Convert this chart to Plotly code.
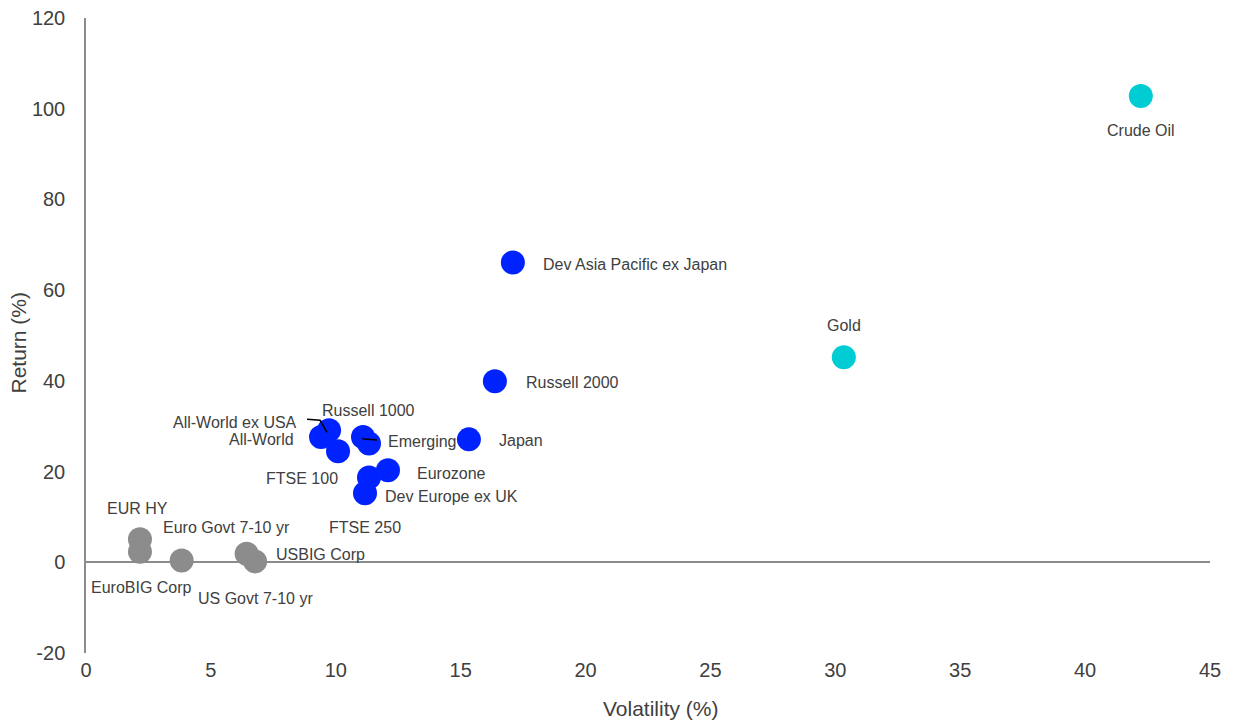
import plotly.graph_objects as go

# ---------------- data ----------------
equity_names = ["Dev Asia Pacific ex Japan", "Russell 2000", "Japan", "Russell 1000",
                "Emerging", "All-World ex USA", "All-World", "FTSE 100", "FTSE 250",
                "Eurozone", "Dev Europe ex UK"]
equity_vol = [17.09, 16.37, 15.33, 11.33, 11.09, 9.73, 9.41, 11.33, 10.09, 12.09, 11.17]
equity_ret = [66.1, 39.9, 27.1, 26.2, 27.6, 29.1, 27.6, 18.7, 24.5, 20.3, 15.2]

commodity_names = ["Crude Oil", "Gold"]
commodity_vol = [42.23, 30.34]
commodity_ret = [102.8, 45.2]

bond_names = ["EUR HY", "EuroBIG Corp", "Euro Govt 7-10 yr", "USBIG Corp", "US Govt 7-10 yr"]
bond_vol = [2.16, 2.16, 3.83, 6.43, 6.77]
bond_ret = [5.1, 2.3, 0.4, 1.9, 0.2]

x_ticks = [0, 5, 10, 15, 20, 25, 30, 35, 40, 45]
y_ticks = [-20, 0, 20, 40, 60, 80, 100, 120]
x_title = "Volatility (%)"
y_title = "Return (%)"

# ---------------- styles ----------------
FONT = "Arial, 'Liberation Sans', sans-serif"
TXT = "#404040"
AXIS = "#8c8c8c"
C_EQ = "#0022ff"
C_CM = "#00ccd3"
C_BD = "#8c8c8c"
MSIZE = 24

# label offsets in pixels (dx right, dy down) and anchor
label_pos = {
    "Crude Oil": (0, 34, "center"),
    "Gold": (0, -32, "center"),
    "Dev Asia Pacific ex Japan": (28, 2, "left"),
    "Russell 2000": (29, 1, "left"),
    "Japan": (28, 1, "left"),
    "Russell 1000": (-1, -33, "center"),
    "Emerging": (23, 4, "left"),
    "All-World ex USA": (-30, -8, "right"),
    "All-World": (-25, 2, "right"),
    "FTSE 100": (-29, 1, "right"),
    "FTSE 250": (27, 76, "center"),
    "Eurozone": (27, 3, "left"),
    "Dev Europe ex UK": (18, 3, "left"),
    "EUR HY": (-2, -31, "center"),
    "EuroBIG Corp": (2, 36, "center"),
    "Euro Govt 7-10 yr": (-21, -33, "left"),
    "USBIG Corp": (27, 1, "left"),
    "US Govt 7-10 yr": (-59, 37, "left"),
}
# leader lines: pixel offsets (dx right, dy down) relative to the point
leaders = {
    "All-World ex USA": [(-22, -11), (-9, -10), (-2, 2)],
    "Emerging": [(-1, 1), (1, 2), (14, 3)],
}

fig = go.Figure()
for names, xs, ys, col in [(bond_names, bond_vol, bond_ret, C_BD),
                           (equity_names, equity_vol, equity_ret, C_EQ),
                           (commodity_names, commodity_vol, commodity_ret, C_CM)]:
    fig.add_trace(go.Scatter(x=xs, y=ys, mode="markers", text=names,
                             marker=dict(size=MSIZE, color=col, line=dict(width=0)),
                             showlegend=False, hoverinfo="text+x+y"))

annotations = []
shapes = []
for names, xs, ys in [(bond_names, bond_vol, bond_ret),
                      (equity_names, equity_vol, equity_ret),
                      (commodity_names, commodity_vol, commodity_ret)]:
    for n, xv, yv in zip(names, xs, ys):
        dx, dy, anc = label_pos[n]
        annotations.append(dict(x=xv, y=yv, xref="x", yref="y", text=n,
                                showarrow=False, xanchor=anc, yanchor="middle",
                                xshift=dx, yshift=-dy,
                                font=dict(family=FONT, size=16, color=TXT)))
        if n in leaders:
            pts = leaders[n]
            path = "M " + " L ".join(f"{px} {-py}" for px, py in pts)
            shapes.append(dict(type="path", xref="x", yref="y", xsizemode="pixel",
                               ysizemode="pixel", xanchor=xv, yanchor=yv, path=path,
                               line=dict(color="black", width=1.5)))

# axis titles
annotations.append(dict(x=0.5, y=0, xref="paper", yref="paper", text=x_title,
                        showarrow=False, xanchor="center", yanchor="middle",
                        xshift=13, yshift=-55, font=dict(family=FONT, size=21, color=TXT)))
annotations.append(dict(x=0, y=0.5, xref="paper", yref="paper", text=y_title,
                        showarrow=False, xanchor="center", yanchor="middle", textangle=-90,
                        xshift=-68, yshift=-7, font=dict(family=FONT, size=21, color=TXT)))

fig.update_layout(
    width=1260, height=723,
    margin=dict(l=86, r=50, t=18, b=70),
    paper_bgcolor="white", plot_bgcolor="white",
    font=dict(family=FONT, color=TXT),
    annotations=annotations, shapes=shapes,
    xaxis=dict(range=[0, 45], tickvals=x_ticks, ticktext=[str(v) for v in x_ticks],
               showgrid=False, zeroline=False, showline=False, ticks="", automargin=False,
               tickfont=dict(size=20, color=TXT), ticklabelstandoff=3),
    yaxis=dict(range=[-20, 120], tickvals=y_ticks, ticktext=[str(v) for v in y_ticks],
               showgrid=False, zeroline=True, zerolinecolor=AXIS, zerolinewidth=1.5,
               showline=True, linecolor=AXIS, linewidth=1.5, ticks="", automargin=False,
               tickfont=dict(size=20, color=TXT), ticklabelstandoff=15),
)

fig.write_html("out.html", config={"displayModeBar": False},
               post_script="document.body.style.margin='0';document.body.style.overflow='hidden';")
